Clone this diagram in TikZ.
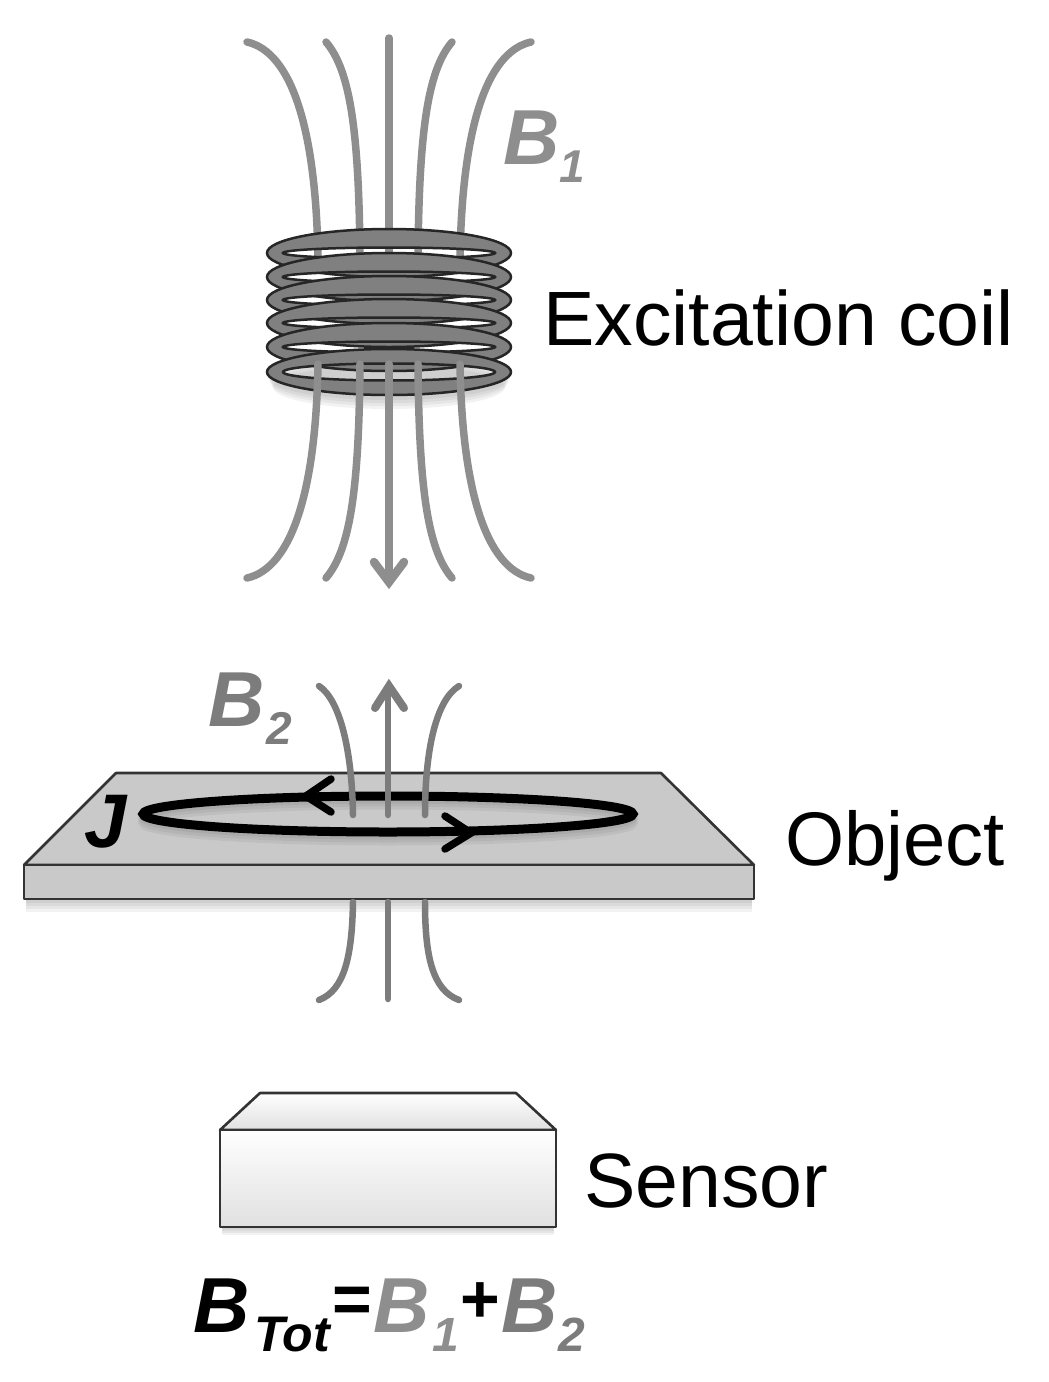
\documentclass[tikz,border=0pt]{standalone}
\usepackage{fontspec}
\setmainfont{Liberation Sans}
\definecolor{fieldA}{HTML}{8E8E8E}
\definecolor{fieldB}{HTML}{7C7C7C}
\definecolor{ringgray}{HTML}{808080}
\definecolor{slab}{HTML}{C9C9C9}
\newcommand{\lab}[1]{\fontsize{#1}{#1}\selectfont}
\newcommand{\bi}[1]{\bfseries\itshape\lab{#1}}
\tikzset{
  lineA/.style={draw=fieldA,line width=7.5pt,line cap=round},
  lineB/.style={draw=fieldB,line width=6.5pt,line cap=round},
  ring/.style={fill=ringgray,draw=black!85,line width=2.5pt,even odd rule},
  edgeline/.style={draw=black!80,line width=2.6pt,line join=round},
  labeltxt/.style={inner sep=0pt,anchor=base west},
  softshadow/.style={fill=black,opacity=0.05},
}
\begin{document}
\begin{tikzpicture}[x=1pt,y=-1pt]
\useasboundingbox (0,0) rectangle (1049,1382);
% B1 field, upper half
\draw[lineA] (389,38) -- (389,258);
\draw[lineA] (247,42) .. controls (292,52) and (316,130) .. (318,258);
\draw[lineA] (326,42) .. controls (350,70) and (359,130) .. (360,258);
\draw[lineA] (531,42) .. controls (486,52) and (462,130) .. (460,258);
\draw[lineA] (452,42) .. controls (428,70) and (419,130) .. (418,258);
% coil shadow
\foreach \d in {3,6,9,12}{\fill[softshadow] (389,375+\d) ellipse [x radius=122-\d/2, y radius=22];}
% coil rings, top first
\foreach \cy in {253,277,300,323,347}{
  \path[ring] (389,\cy) ellipse [x radius=122, y radius=24] (389,\cy) ellipse [x radius=106, y radius=5.5];
}
\path[ring] (389,372) ellipse [x radius=122, y radius=23] (389,372) ellipse [x radius=106, y radius=8.5];
% B1 field, lower half
\draw[lineA] (389,364) -- (389,580);
\draw[lineA,line width=8.5pt,line join=miter] (374,562) -- (389,582) -- (404,562);
\draw[lineA] (318,364) .. controls (316,490) and (292,568) .. (247,578);
\draw[lineA] (360,364) .. controls (359,490) and (350,550) .. (326,578);
\draw[lineA] (460,364) .. controls (462,490) and (486,568) .. (531,578);
\draw[lineA] (418,364) .. controls (419,490) and (428,550) .. (452,578);
% object
\foreach \d in {3,6,9,12}{\fill[softshadow] (26,895) rectangle (752,900+\d);}
\path[edgeline,fill=slab] (116,773) -- (661,773) -- (754,865) -- (24,865) -- cycle;
\path[edgeline,fill=slab] (24,865) rectangle (754,899);
% eddy current loop
\foreach \d in {3,6,9}{\draw[black,opacity=0.05,line width=9pt] (388,814+\d) ellipse [x radius=245, y radius=18];}
\draw[black,line width=9pt] (388,814) ellipse [x radius=245, y radius=18];
\draw[black,line width=7.5pt,line cap=round,line join=miter] (331,779) -- (306,796) -- (331,812);
\draw[black,line width=7.5pt,line cap=round,line join=miter] (445,816) -- (471,833) -- (445,849);
% B2 field
\draw[lineB] (388,815) -- (388,688);
\draw[lineB,line width=8pt,line join=miter] (375,708) -- (389,686) -- (404,708);
\draw[lineB] (319,686) .. controls (340,700) and (352,750) .. (353,815);
\draw[lineB] (459,686) .. controls (436,700) and (425,750) .. (425,815);
\draw[lineB] (353,902) .. controls (352,955) and (345,990) .. (319,1000);
\draw[lineB] (388,902) -- (388,999);
\draw[lineB] (425,902) .. controls (425,955) and (432,990) .. (459,1000);
% sensor
\foreach \d in {2,4,6,8}{\fill[softshadow] (222,1224) rectangle (554,1227+\d);}
\path[edgeline,top color=white,bottom color=black!12] (260,1093) -- (516,1093) -- (556,1130) -- (220,1130) -- cycle;
\path[edgeline,top color=white,bottom color=black!12] (220,1130) rectangle (556,1227);
% labels
\node[labeltxt,text=fieldA] (bone) at (503,164) {\bi{78}B};
\node[labeltxt,text=fieldA] (boneSub) at (559,182) {\bi{46}1};
\node[labeltxt,text=fieldB] (btwo) at (208,726) {\bi{78}B};
\node[labeltxt,text=fieldB] (btwoSub) at (266,744) {\bi{46}2};
\node[labeltxt,text=black] (jlabel) at (84,847) {\bi{76}J};
\node[labeltxt] (excite) at (543,345) {\lab{77}Excitation coil};
\node[labeltxt] (objlabel) at (785,865) {\lab{76}Object};
\node[labeltxt] (senslabel) at (584,1207) {\lab{77}Sensor};
\node[labeltxt,text=black] (btot) at (193,1332) {\bi{78}B};
\node[labeltxt,text=black] (tot) at (254,1351) {\bi{50}Tot};
\node[labeltxt,text=black] (eq) at (332,1322) {\bfseries\lab{68}=};
\node[labeltxt,text=fieldA] (b1) at (373,1332) {\bi{78}B};
\node[labeltxt,text=fieldA] (b1s) at (432,1351) {\bi{48}1};
\node[labeltxt,text=black] (plus) at (460,1322) {\bfseries\lab{68}+};
\node[labeltxt,text=fieldB] (b2) at (501,1332) {\bi{78}B};
\node[labeltxt,text=fieldB] (b2s) at (558,1351) {\bi{48}2};
\end{tikzpicture}
\end{document}
